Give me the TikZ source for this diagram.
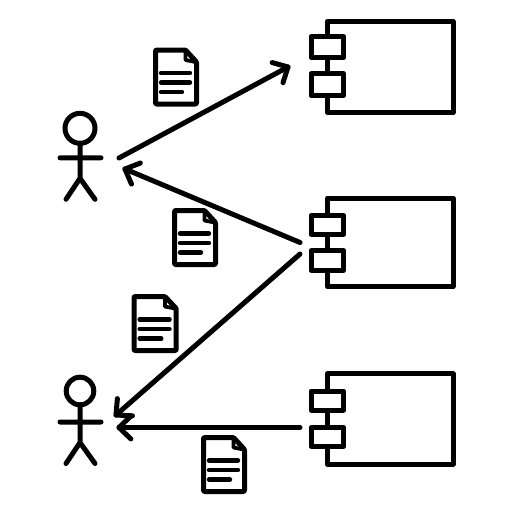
\documentclass[tikz,border=0pt]{standalone}
\usetikzlibrary{calc}
\tikzset{
  x=1pt,y=-1pt,
  ink/.style={line width=5pt,black,line join=round,line cap=round},
  body/.style={draw,ink,fill=white,rectangle,inner sep=0pt,outer sep=0pt,minimum width=125.7pt,anchor=north west},
  port/.style={draw,ink,fill=white,rectangle,inner sep=0pt,outer sep=0pt,minimum width=32.7pt,anchor=north west},
  pics/docicon/.style={code={
    \draw[ink,rounded corners=1pt] (0,0) -- (30,0) -- (41,12) -- (41,54) -- (0,54) -- cycle;
    \draw[ink,line width=3.8pt] (30,1) -- (30,10) -- (40,12);
    \draw[ink,line width=4.4pt] (5.5,23) -- (34.5,23) (5.5,32.5) -- (34.5,32.5) (5.5,42) -- (26.5,42);
  }},
  pics/stickman/.style 2 args={code={
    \draw[ink] (0,0) circle (#1pt);
    \draw[ink] (0,#1) -- (0,#2+20.5) (-20,#2) -- (21,#2) (-14,#2+41.5) -- (0,#2+20.5) -- (15,#2+41.5);
  }}
}
\newcommand{\flowline}[2]{%
  \draw[ink] (#1) -- (#2);
  \draw[ink] ($(#2)!16.5pt!44:(#1)$) -- (#2) -- ($(#2)!16.5pt!-44:(#1)$);
}
\begin{document}
\begin{tikzpicture}
\useasboundingbox (0,0) rectangle (512,512);
\fill[white] (0,0) rectangle (512,512);

\node[body,minimum height=91pt] (compA) at (327.3,21.5) {};
\node[port,minimum height=21pt] (compAp) at (311,36.6) {};
\node[port,minimum height=22pt] (compAq) at (311,73.8) {};

\node[body,minimum height=88.7pt] (compB) at (327.3,198) {};
\node[port,minimum height=19pt] (compBp) at (311,215.3) {};
\node[port,minimum height=19.5pt] (compBq) at (311,250.7) {};

\node[body,minimum height=90.6pt] (compC) at (327.3,373.7) {};
\node[port,minimum height=19pt] (compCp) at (311,391) {};
\node[port,minimum height=19pt] (compCq) at (311,427.3) {};

\pic at (80,128.3) {stickman={15}{29.5}};
\pic at (80,391) {stickman={13.8}{31}};

\pic at (155.5,50) {docicon};
\pic at (174.5,210.5) {docicon};
\pic[xscale=1.03] at (134,296.5) {docicon};
\pic at (203.5,437.5) {docicon};

\coordinate (actorAout) at (119,158);
\coordinate (actorAin) at (125,169);
\coordinate (actorBa) at (116,415);
\coordinate (actorBb) at (119,427.5);
\coordinate (compAin) at (288,67);
\coordinate (compBoutA) at (300,242.5);
\coordinate (compBoutB) at (300,254);
\coordinate (compCout) at (300,427.5);

\flowline{actorAout}{compAin}
\flowline{compBoutA}{actorAin}
\flowline{compBoutB}{actorBa}
\flowline{compCout}{actorBb}
\end{tikzpicture}
\end{document}
